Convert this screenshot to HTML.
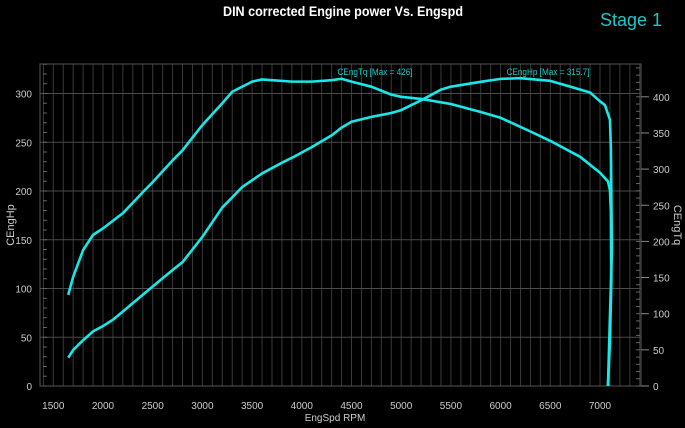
<!DOCTYPE html>
<html><head><meta charset="utf-8"><style>
html,body{margin:0;padding:0;background:#000;}
svg{display:block;font-family:"Liberation Sans",sans-serif;}
</style></head><body>
<svg id="chart" width="685" height="428" viewBox="0 0 685 428">
<rect x="0" y="0" width="685" height="428" fill="#000"/>
<text x="343" y="16" text-anchor="middle" fill="#fff" font-weight="bold" font-size="14" textLength="240" lengthAdjust="spacingAndGlyphs">DIN corrected Engine power Vs. Engspd</text>
<text x="631" y="26" text-anchor="middle" fill="#1fc8c8" font-size="18">Stage 1</text>
<g id="grid"></g>
<g id="axes"></g>
<g id="series"></g>
<text x="335" y="421" text-anchor="middle" fill="#ccc" font-size="10">EngSpd RPM</text>
<text transform="translate(14,225) rotate(-90)" text-anchor="middle" fill="#ccc" font-size="11">CEngHp</text>
<text transform="translate(674,225) rotate(90)" text-anchor="middle" fill="#ccc" font-size="11">CEngTq</text>
<text x="375" y="75" text-anchor="middle" fill="#1fc8c8" font-size="9.5" textLength="75" lengthAdjust="spacingAndGlyphs">CEngTq [Max = 426]</text>
<text x="548" y="75" text-anchor="middle" fill="#1fc8c8" font-size="9.5" textLength="83" lengthAdjust="spacingAndGlyphs">CEngHp [Max = 315.7]</text>
</svg>
<script>
const xTicks = [1500,2000,2500,3000,3500,4000,4500,5000,5500,6000,6500,7000];
const hpTicks = [0,50,100,150,200,250,300];
const tqTicks = [0,50,100,150,200,250,300,350,400];
const rpm = [1650,1700,1800,1900,2000,2100,2300,2500,2700,2800,3000,3200,3400,3600,3800,3900,4100,4300,4400,4500,4700,4900,5000,5200,5400,5500,5800,6000,6200,6500,6700,6900,7000,7050,7100,7110,7120,7100,7080];
const hp = [29,37,47,56,61.5,68,85,102,119,127,153,183,204,218,229,234,245,257,265,271,276,280,283,293,304,307,312,315,315.7,313,307,301,292,288,273,242,139,71,0];
const tqRpm = [1650,1700,1800,1900,2000,2200,2400,2500,2700,2800,3000,3200,3300,3500,3600,3700,3900,4100,4300,4400,4500,4700,4900,5000,5200,5500,5800,6000,6300,6500,6800,7000,7080,7100,7110,7115,7100,7080];
const tq = [126,151,188,209,218,239,268,282,312,326,361,391,407,421,424,423,421,421,423,425,421,414,403,400,397,390,379,371,352,339,317,295,283,271,240,150,60,0];

const NS='http://www.w3.org/2000/svg';
const X=r=>53.3+(r-1500)*0.0994;
const YL=v=>386-v*0.975;
const YR=v=>386-v*0.723;
const L=40,R=641,T=64,B=386;
function mk(tag,attrs,parent){const e=document.createElementNS(NS,tag);for(const k in attrs)e.setAttribute(k,attrs[k]);parent.appendChild(e);return e;}
const grid=document.getElementById('grid'),axes=document.getElementById('axes'),series=document.getElementById('series');
for(let r=1400;r<=7400;r+=100){
  const l=mk('line',{x1:X(r),x2:X(r),y1:T,y2:B,stroke:'#3a3a3a','stroke-width':1},grid);
  
  
}
hpTicks.forEach(v=>{
  const l=mk('line',{x1:L,x2:R,y1:YL(v),y2:YL(v),stroke:'#4a4a4a','stroke-width':1},grid);
  
  
});
mk('rect',{x:L,y:T,width:R-L,height:B-T,fill:'none',stroke:'#555'},axes);
xTicks.forEach(v=>{
  const t=mk('text',{x:X(v),y:409,'text-anchor':'middle',fill:'#ccc','font-size':10},axes);
  t.textContent=v;
  
  
});
hpTicks.forEach(v=>{
  const t=mk('text',{x:32,y:YL(v)+4,'text-anchor':'end',fill:'#ccc','font-size':10},axes);
  t.textContent=v;
  
  
});
for(let v=0;v<=330;v+=10){mk('line',{x1:L+3,x2:L+7,y1:YL(v),y2:YL(v),stroke:'#666'},axes);}
tqTicks.forEach(v=>{
  mk('line',{x1:R,x2:R+8,y1:YR(v),y2:YR(v),stroke:'#888'},axes);
  const t=mk('text',{x:R+12,y:YR(v)+4,'text-anchor':'start',fill:'#ccc','font-size':10},axes);
  t.textContent=v;
  
  
});
for(let v=0;v<=440;v+=10){mk('line',{x1:R-5,x2:R-1,y1:YR(v),y2:YR(v),stroke:'#666'},axes);}
const p1=mk('polyline',{points:tqRpm.map((r,i)=>X(r)+','+YR(tq[i])).join(' '),fill:'none',stroke:'#19e8e8','stroke-width':2.6,'stroke-linejoin':'round'},series);


const p2=mk('polyline',{points:rpm.map((r,i)=>X(r)+','+YL(hp[i])).join(' '),fill:'none',stroke:'#19e8e8','stroke-width':2.6,'stroke-linejoin':'round'},series);


</script>
</body></html>
